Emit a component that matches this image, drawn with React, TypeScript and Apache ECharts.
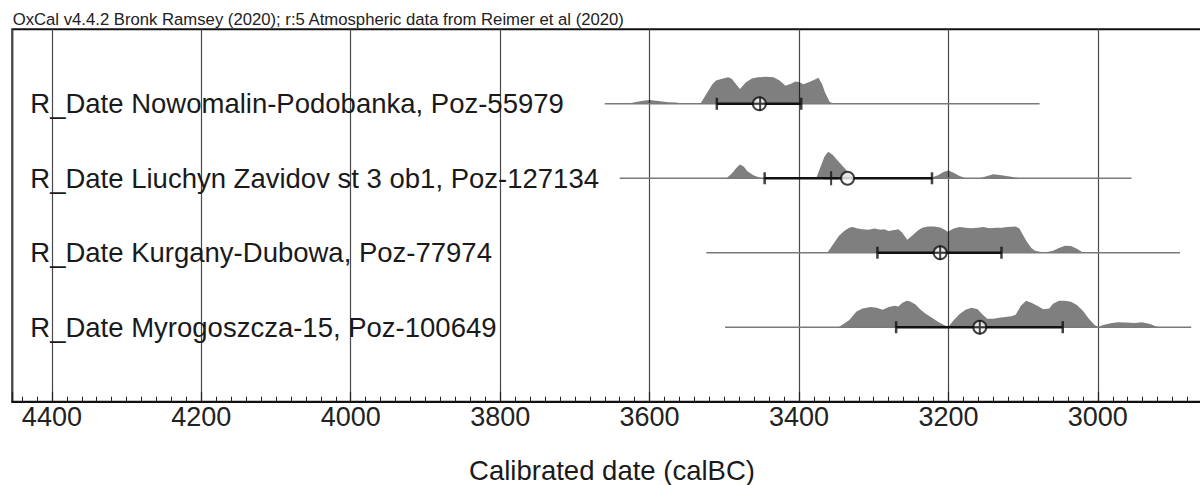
import React, { useEffect, useRef } from "react";
import * as echarts from "echarts";

const FONT = "'Liberation Sans', Arial, Helvetica, sans-serif";

const headerText =
  "OxCal v4.4.2 Bronk Ramsey (2020); r:5 Atmospheric data from Reimer et al (2020)";
const axisTitle = "Calibrated date (calBC)";
const tickLabels = ["4400", "4200", "4000", "3800", "3600", "3400", "3200", "3000"];

const rowLabels = [
  "R_Date Nowomalin-Podobanka, Poz-55979",
  "R_Date Liuchyn Zavidov st 3 ob1, Poz-127134",
  "R_Date Kurgany-Dubowa, Poz-77974",
  "R_Date Myrogoszcza-15, Poz-100649",
];

// full plotted range of each distribution (calBC)
const rangeFrom = [3660, 3640, 3524, 3499];
const rangeTo = [3078, 2955, 2890, 2875];
// 1-sigma ranges
const sigmaFrom = [3510, 3446, 3295, 3270];
const sigmaTo = [3397, 3222, 3129, 3047];
const medians = [3452, 3357, 3211, 3158];
const means = [3453, 3335, 3211, 3158];

// probability distributions (calBC, relative density)
const dist1Years = [3630, 3620, 3609, 3600, 3588, 3575, 3564, 3557, 3532, 3524, 3516, 3511, 3503, 3495, 3490, 3485, 3479, 3471, 3463, 3455, 3445, 3434, 3426, 3418, 3410, 3405, 3400, 3394, 3386, 3378, 3374, 3369, 3365, 3359, 3354];
const dist1Values = [0, 4, 8, 10, 7, 4, 3, 0, 0, 25, 50, 60, 64, 68, 64, 52, 38, 55, 65, 68, 69, 68, 60, 46, 52, 57, 56, 50, 56, 63, 67, 50, 28, 5, 0];

const dist2Years = [3497, 3490, 3483, 3479, 3474, 3469, 3461, 3453, 3447, 3377, 3372, 3366, 3361, 3355, 3348, 3341, 3334, 3328, 3323, 3225, 3214, 3206, 3200, 3193, 3185, 3177, 3158, 3148, 3140, 3129, 3116, 3105];
const dist2Values = [0, 12, 28, 35, 30, 18, 8, 2, 0, 0, 25, 55, 68, 60, 45, 30, 15, 3, 0, 0, 8, 17, 20, 14, 6, 0, 0, 6, 10, 8, 4, 0];

const dist3Years = [3362, 3355, 3347, 3340, 3333, 3328, 3323, 3315, 3307, 3299, 3291, 3286, 3280, 3272, 3267, 3262, 3255, 3248, 3240, 3235, 3227, 3219, 3211, 3206, 3201, 3193, 3185, 3177, 3169, 3161, 3153, 3145, 3137, 3129, 3121, 3110, 3105, 3100, 3095, 3089, 3084, 3076, 3068, 3060, 3052, 3044, 3036, 3028, 3021, 3015];
const dist3Values = [0, 20, 42, 55, 64, 66, 63, 60, 59, 62, 59, 60, 56, 58, 60, 52, 33, 45, 58, 64, 67, 67, 65, 60, 54, 62, 66, 64, 63, 64, 66, 63, 64, 64, 66, 67, 62, 45, 28, 12, 5, 2, 2, 5, 12, 18, 17, 10, 2, 0];

const dist4Years = [3347, 3333, 3323, 3315, 3304, 3296, 3288, 3280, 3272, 3267, 3262, 3256, 3251, 3244, 3238, 3230, 3222, 3214, 3206, 3200, 3193, 3185, 3177, 3169, 3161, 3154, 3148, 3140, 3132, 3124, 3116, 3110, 3103, 3096, 3089, 3081, 3073, 3065, 3060, 3052, 3044, 3036, 3028, 3020, 3012, 3004, 2999, 2994, 2983, 2973, 2962, 2951, 2941, 2930, 2922, 2917];
const dist4Values = [0, 18, 40, 48, 52, 50, 45, 52, 55, 53, 62, 68, 66, 58, 46, 34, 24, 14, 6, 1, 18, 34, 45, 50, 46, 32, 22, 22, 24, 26, 28, 32, 55, 68, 63, 55, 46, 48, 60, 68, 68, 65, 57, 42, 22, 5, 0, 5, 10, 13, 12, 11, 13, 8, 2, 0];

const distYears = [dist1Years, dist2Years, dist3Years, dist4Years];
const distValues = [dist1Values, dist2Values, dist3Values, dist4Values];

const CANVAS_W = 1280;

export default function App() {
  const ref = useRef<HTMLDivElement>(null);

  useEffect(() => {
    if (!ref.current) return;
    const chart = echarts.init(ref.current, undefined, { renderer: "svg" });

    const X_MIN = 2800;
    const X_MAX = 4453;
    const gridLeft = 12.3;
    const gridTop = 29.3;
    const gridHeight = 372.4;
    const pxPerYear = 0.7471;
    const gridWidth = (X_MAX - X_MIN) * pxPerYear;
    const rowUnit = gridHeight / 5;
    const distHeight = 39;

    const grids: any[] = [
      {
        left: gridLeft,
        top: gridTop,
        width: gridWidth,
        height: gridHeight,
        show: true,
        borderColor: "#111",
        borderWidth: 2,
        backgroundColor: "transparent",
      },
    ];
    const xAxes: any[] = [
      {
        type: "value",
        gridIndex: 0,
        inverse: true,
        min: X_MIN,
        max: X_MAX,
        interval: 200,
        axisLine: { show: true, onZero: false, lineStyle: { color: "#111", width: 2 } },
        axisTick: { show: true, inside: true, length: 10, lineStyle: { color: "#222", width: 1.2 } },
        minorTick: { show: true, splitNumber: 10, length: 5, lineStyle: { color: "#222", width: 1 } },
        splitLine: { show: true, lineStyle: { color: "#4a4a4a", width: 1.2 } },
        axisLabel: {
          fontSize: 27,
          color: "#222",
          fontFamily: FONT,
          margin: 2,
          formatter: (v: number) => (tickLabels.includes(String(v)) ? String(v) : ""),
        },
      },
    ];
    const yAxes: any[] = [
      {
        type: "value",
        gridIndex: 0,
        inverse: true,
        min: -1,
        max: 4,
        interval: 1,
        axisLine: { show: false },
        axisTick: { show: false },
        splitLine: { show: false },
        axisLabel: {
          inside: true,
          margin: 18,
          fontSize: 27.5,
          color: "#1a1a1a",
          fontFamily: FONT,
          formatter: (v: number) => rowLabels[v] ?? "",
        },
      },
    ];
    const series: any[] = [];

    rowLabels.forEach((_, i) => {
      const rowY = gridTop + (i + 1) * rowUnit;
      grids.push({
        left: gridLeft,
        top: rowY - distHeight,
        width: gridWidth,
        height: distHeight,
      });
      xAxes.push({ type: "value", gridIndex: i + 1, inverse: true, min: X_MIN, max: X_MAX, show: false });
      yAxes.push({ type: "value", gridIndex: i + 1, min: 0, max: 100, show: false });
      series.push({
        type: "line",
        xAxisIndex: i + 1,
        yAxisIndex: i + 1,
        data: distYears[i].map((y, k) => [y, distValues[i][k]]),
        symbol: "none",
        silent: true,
        lineStyle: { width: 0, opacity: 0 },
        areaStyle: { color: "rgba(0,0,0,0.5)", opacity: 1 },
        z: 2,
      });
      series.push({
        type: "line",
        xAxisIndex: 0,
        yAxisIndex: 0,
        data: [
          [rangeFrom[i], i],
          [rangeTo[i], i],
        ],
        symbol: "none",
        silent: true,
        lineStyle: { color: "#7a7a7a", width: 1.5 },
        z: 3,
      });
      series.push({
        type: "line",
        xAxisIndex: 0,
        yAxisIndex: 0,
        data: [
          [sigmaFrom[i], i],
          [sigmaTo[i], i],
        ],
        symbol: "none",
        silent: true,
        lineStyle: { color: "#111", width: 2.5 },
        z: 4,
      });
    });

    series.push({
      type: "scatter",
      xAxisIndex: 0,
      yAxisIndex: 0,
      data: rowLabels.flatMap((_, i) => [
        [sigmaFrom[i], i],
        [sigmaTo[i], i],
      ]),
      symbol: "rect",
      symbolSize: [2.5, 12],
      itemStyle: { color: "#111" },
      silent: true,
      z: 5,
    });
    series.push({
      type: "scatter",
      xAxisIndex: 0,
      yAxisIndex: 0,
      data: means.map((m, i) => [m, i]),
      symbol: "circle",
      symbolSize: 13,
      itemStyle: { color: "#fff", borderColor: "#111", borderWidth: 2 },
      silent: true,
      z: 6,
    });
    series.push({
      type: "scatter",
      xAxisIndex: 0,
      yAxisIndex: 0,
      data: medians.map((m, i) => [m, i]),
      symbol: "path://M6,0h2v14h-2z M0,6h14v2h-14z",
      symbolSize: 14,
      itemStyle: { color: "#111" },
      silent: true,
      z: 7,
    });

    chart.setOption({
      animation: false,
      backgroundColor: "#fff",
      textStyle: { fontFamily: FONT },
      grid: grids,
      xAxis: xAxes,
      yAxis: yAxes,
      series,
      graphic: [
        {
          type: "text",
          left: 12.7,
          top: 11,
          style: {
            text: headerText,
            font: `16.7px ${FONT}`,
            fill: "#222",
          },
        },
        {
          type: "text",
          x: 612,
          y: 470,
          style: {
            text: axisTitle,
            font: `27.5px ${FONT}`,
            fill: "#1a1a1a",
            align: "center",
            verticalAlign: "middle",
            textAlign: "center",
            textVerticalAlign: "middle",
          },
        },
      ],
    });

    return () => chart.dispose();
  }, []);

  return (
    <div
      ref={ref}
      style={{ position: "fixed", left: 0, top: 0, width: CANVAS_W, height: 485, background: "#fff" }}
    />
  );
}
